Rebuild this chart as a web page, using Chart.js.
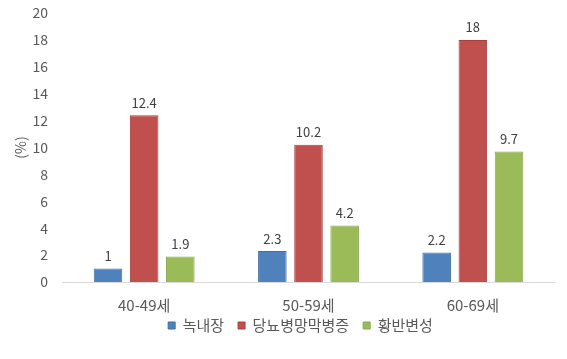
<!DOCTYPE html>
<html>
<head>
<meta charset="utf-8">
<script src="https://cdn.jsdelivr.net/npm/chart.js@4/dist/chart.umd.min.js"></script>
<style>
  html, body { margin: 0; padding: 0; background: #fff; }
  #wrap { width: 567px; height: 359px; }
</style>
</head>
<body>
<div id="wrap"><canvas id="chart" width="567" height="359"></canvas></div>
<script>
// categories and series
var ageGroups = ['40-49세', '50-59세', '60-69세'];
var glaucoma = [1, 2.3, 2.2];
var diabeticRetinopathy = [12.4, 10.2, 18];
var macularDegeneration = [1.9, 4.2, 9.7];

var fontFamily = '"Noto Sans CJK KR", "Noto Sans", sans-serif';
var textColor = '#595959';
var legendLift = 24; // legend takes less room so plot goes lower
var legendShift = 20; // legend sits a bit right of canvas centre

// draws value above each bar
var barValues = {
    id: 'barValues',
    afterDatasetsDraw: function(chart) {
        var ctx = chart.ctx;
        ctx.save();
        ctx.font = '13px ' + fontFamily;
        ctx.fillStyle = '#404040';
        ctx.textAlign = 'center';
        ctx.textBaseline = 'bottom';
        chart.data.datasets.forEach(function(ds, i) {
            var meta = chart.getDatasetMeta(i);
            meta.data.forEach(function(bar, j) {
                ctx.fillText(String(ds.data[j]), bar.x, bar.y - 6);
            });
        });
        ctx.restore();
    }
};

// legend squeeze
var legendTight = {
    id: 'legendTight',
    beforeLayout: function(chart) {
        var lg = chart.legend;
        if (lg && !lg._tight) {
            var fit = lg.fit;
            lg.fit = function() {
                fit.call(this);
                this.height -= legendLift;
            };
            lg._tight = true;
        }
    },
    afterLayout: function(chart) {
        var lg = chart.legend;
        lg.top -= legendLift;
        lg.height += legendLift;
        lg.left += legendShift;
        lg.right += legendShift;
    }
};

new Chart(document.getElementById('chart'), {
    type: 'bar',
    data: {
        labels: ageGroups,
        datasets: [
            { label: '녹내장', data: glaucoma, backgroundColor: '#4F81BD', borderColor: '#41719C', borderWidth: 1 },
            { label: '당뇨병망막병증', data: diabeticRetinopathy, backgroundColor: '#C0504D', borderColor: '#A5403D', borderWidth: 1 },
            { label: '황반변성', data: macularDegeneration, backgroundColor: '#9BBB59', borderColor: '#86A64A', borderWidth: 1 }
        ]
    },
    options: {
        responsive: false,
        animation: false,
        categoryPercentage: 0.66,
        barPercentage: 0.79,
        layout: { padding: { left: 6, right: 12, top: 0, bottom: 16 } },
        scales: {
            x: {
                grid: { display: false, drawTicks: false },
                border: { color: '#D9D9D9', width: 1 },
                ticks: { color: textColor, font: { family: fontFamily, size: 15 }, padding: 14 }
            },
            y: {
                min: 0,
                max: 20,
                grid: { display: false, drawTicks: false },
                border: { display: false },
                ticks: { stepSize: 2, color: textColor, font: { family: fontFamily, size: 14 }, padding: 14 },
                title: { display: true, text: '(%)', color: textColor, font: { family: fontFamily, size: 14 }, padding: { top: 6, bottom: 0 } },
                afterFit: function(scale) {
                    scale.width = 56;
                    scale.paddingTop = 13;
                }
            }
        },
        plugins: {
            legend: {
                position: 'bottom',
                labels: {
                    color: textColor,
                    font: { family: fontFamily, size: 15 },
                    boxWidth: 7,
                    boxHeight: 7,
                    padding: 14
                }
            },
            tooltip: { enabled: false }
        }
    },
    plugins: [legendTight, barValues]
});
</script>
</body>
</html>
